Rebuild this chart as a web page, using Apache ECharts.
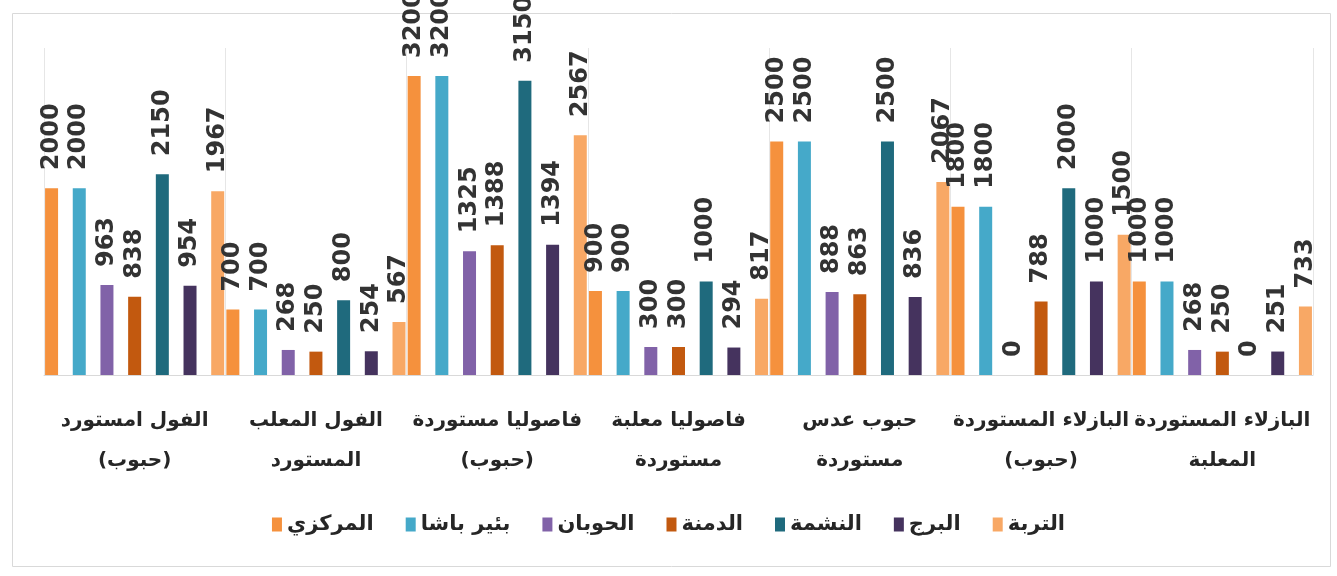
<!DOCTYPE html>
<html>
<head>
<meta charset="utf-8">
<script src="https://cdn.jsdelivr.net/npm/echarts@6/dist/echarts.min.js"></script>
<style>
html,body{margin:0;padding:0;background:#fff;}
#c{width:1337px;height:576px;}
</style>
</head>
<body>
<div id="c"></div>
<script>
const categories = [
  "الفول امستورد\n(حبوب)",
  "الفول المعلب\nالمستورد",
  "فاصوليا مستوردة\n(حبوب)",
  "فاصوليا معلبة\nمستوردة",
  "حبوب عدس\nمستوردة",
  "البازلاء المستوردة\n(حبوب)",
  "البازلاء المستوردة\nالمعلبة"
];
const seriesNames = ["المركزي", "بئير باشا", "الحوبان", "الدمنة", "النشمة", "البرج", "التربة"];
const markazi = [2000, 700, 3200, 900, 2500, 1800, 1000];
const birBasha = [2000, 700, 3200, 900, 2500, 1800, 1000];
const hawban = [963, 268, 1325, 300, 888, 0, 268];
const damna = [838, 250, 1388, 300, 863, 788, 250];
const nashma = [2150, 800, 3150, 1000, 2500, 2000, 0];
const burj = [954, 254, 1394, 294, 836, 1000, 251];
const turba = [1967, 567, 2567, 817, 2067, 1500, 733];
const seriesValues = [markazi, birBasha, hawban, damna, nashma, burj, turba];
const colors = ["#f5913d", "#45a9c9", "#8162a8", "#c2590f", "#1f6a7d", "#45335e", "#f8a865"];

const chart = echarts.init(document.getElementById('c'));
const font = "'DejaVu Sans', 'Noto Sans', sans-serif";
chart.setOption({
  animation: false,
  color: colors,
  graphic: [{
    type: 'rect', shape: {x: 12.5, y: 13.5, width: 1318, height: 553},
    style: {fill: 'none', stroke: '#d9d9d9', lineWidth: 1}, silent: true
  }],
  grid: {left: 44, right: 24, top: 48, bottom: 201},
  legend: {
    bottom: 36, left: 'center',
    itemWidth: 10, itemHeight: 14, itemGap: 32,
    icon: 'rect',
    textStyle: {fontFamily: font, fontSize: 21, fontWeight: 'bold', color: '#262626'},
    data: seriesNames
  },
  xAxis: {
    type: 'category', data: categories,
    axisLine: {lineStyle: {color: '#d9d9d9'}},
    axisTick: {show: false},
    splitLine: {show: true, lineStyle: {color: '#e6e6e6'}},
    axisLabel: {interval: 0, fontFamily: font, fontSize: 20, fontWeight: 'bold', color: '#262626', lineHeight: 40, margin: 26}
  },
  yAxis: {type: 'value', min: 0, max: 3500, show: false, splitLine: {show: false}},
  series: seriesNames.map((n, i) => ({
    name: n, type: 'bar', data: seriesValues[i],
    barWidth: 13, barGap: '113%',
    label: {
      show: true, position: 'top', rotate: 90, align: 'left', verticalAlign: 'middle',
      distance: 18, fontFamily: font, fontSize: 24, fontWeight: 'bold', color: '#333'
    }
  }))
});
</script>
</body>
</html>
